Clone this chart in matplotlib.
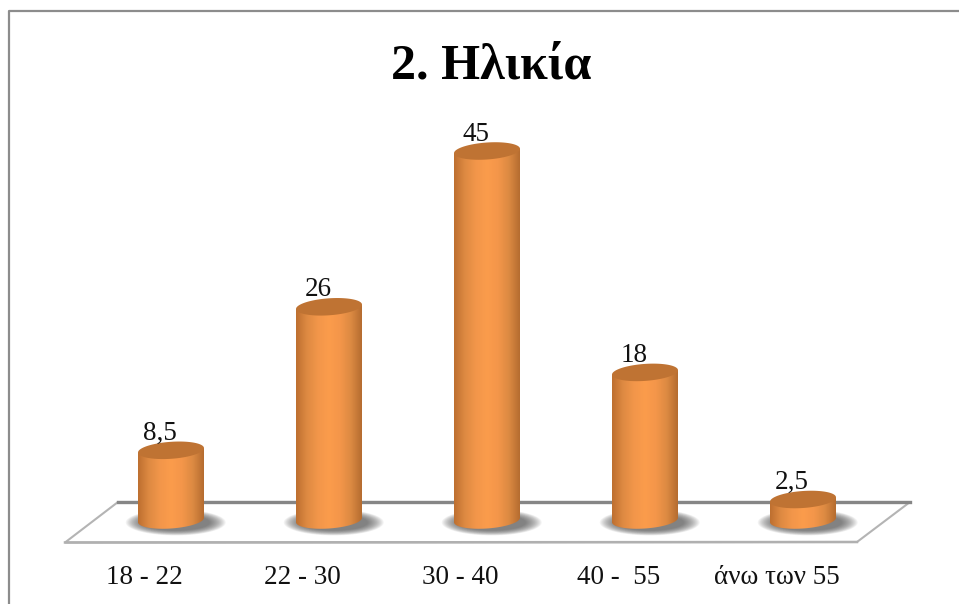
import numpy as np
import matplotlib
matplotlib.use('Agg')
import matplotlib.pyplot as plt
from matplotlib.colors import LinearSegmentedColormap
from matplotlib.patches import PathPatch, Polygon
from matplotlib.path import Path

categories = ['18 - 22', '22 - 30', '30 - 40', '40 -  55', 'άνω των 55']
values = [8.5, 26, 45, 18, 2.5]
labels = ['8,5', '26', '45', '18', '2,5']
title = '2. Ηλικία'

W, H = 959, 604
# one category = 158 px, one unit = 8.2 px, base of the bars at y = 520 px
XUNIT = 158.0
YUNIT = 8.2
X0 = 171.0
Y0 = 520.0

fig = plt.figure(figsize=(W / 100, H / 100), dpi=100)
ax = fig.add_axes([0, 0, 1, 1])
ax.axis('off')


def px(x, y):
    return (x - X0) / XUNIT, (Y0 - y) / YUNIT


def oval(cx, cy, a, b, tilt, t):
    # ellipse sheared so the right side sits a bit higher than the left
    return np.column_stack([cx + a * np.cos(t), cy + b * np.sin(t) + tilt * np.cos(t)])


# outer frame, only left and top are visible
ax.plot(*zip(px(9, 604), px(9, 11), px(959, 11)), color='#8c8c8c', linewidth=1.6)

# floor
ax.add_patch(Polygon([px(65, 542.5), px(118, 502), px(910, 502), px(857, 542)], closed=True,
                     facecolor='white', edgecolor='#b4b4b4', linewidth=1.5, zorder=1))
ax.plot(*zip(px(118, 502), px(910, 502)), color='#868686', linewidth=2.4, zorder=1.5)
ax.plot(*zip(px(65, 542.5), px(857, 542)), color='#b0b0b0', linewidth=1.8, zorder=1.5)

body_cmap = LinearSegmentedColormap.from_list(
    'body', ['#bd6f30', '#de8a42', '#f2964a', '#fb9c4c', '#f4964a', '#dc8a42', '#b56c30'])
grad = np.linspace(0, 1, 256).reshape(1, -1)

half_w = 33 / XUNIT
b_top = 8.5 / YUNIT
b_bot = 8.5 / YUNIT
tilt = 2.2 / YUNIT
t_all = np.linspace(0, 2 * np.pi, 80)

for i, v in enumerate(values):
    # soft shadow on the floor
    for k in range(18):
        s = k / 17
        pts = oval(i + 0.03, -0.3, (50 - 16 * s) / XUNIT, (13 - 5 * s) / YUNIT, 0, t_all)
        ax.add_patch(Polygon(pts, closed=True, facecolor='#4a4a4a', edgecolor='none',
                             alpha=0.06, zorder=2))

    # cylinder body, gradient clipped to the outline
    ts = np.linspace(np.pi, 2 * np.pi, 40)
    bottom = oval(i, 0, half_w, b_bot, tilt, ts)
    top_r = oval(i, v, half_w, b_top, tilt, np.array([0.0]))
    top_l = oval(i, v, half_w, b_top, tilt, np.array([np.pi]))
    verts = np.vstack([bottom, top_r, top_l, bottom[:1]])
    clip = PathPatch(Path(verts, closed=True), facecolor='none', edgecolor='none',
                     transform=ax.transData)
    ax.add_patch(clip)
    im = ax.imshow(grad, cmap=body_cmap, aspect='auto', zorder=3, interpolation='bilinear',
                   extent=(i - half_w, i + half_w, -3, v + 3))
    im.set_clip_path(clip)

    # top face
    ax.add_patch(Polygon(oval(i, v, half_w, b_top, tilt, t_all), closed=True,
                         facecolor='#bf7333', edgecolor='none', zorder=4))

    ax.text(i - 11 / XUNIT, v + 10.5 / YUNIT, labels[i], ha='center', va='baseline',
            fontsize=19.5, family='Liberation Serif', color='#111111', zorder=5)

for i, c in enumerate(categories):
    ax.text(i - 26.5 / XUNIT, px(0, 584.5)[1], c, ha='center', va='baseline', fontsize=19.5,
            family='Liberation Serif', color='#111111')

ax.text(px(491, 0)[0], px(0, 78)[1], title, ha='center', va='baseline', fontsize=36,
        fontweight='bold', family='Liberation Serif', color='black')

ax.set_xlim(-X0 / XUNIT, (W - X0) / XUNIT)
ax.set_ylim((Y0 - H) / YUNIT, Y0 / YUNIT)
fig.savefig('out.png', dpi=100)
